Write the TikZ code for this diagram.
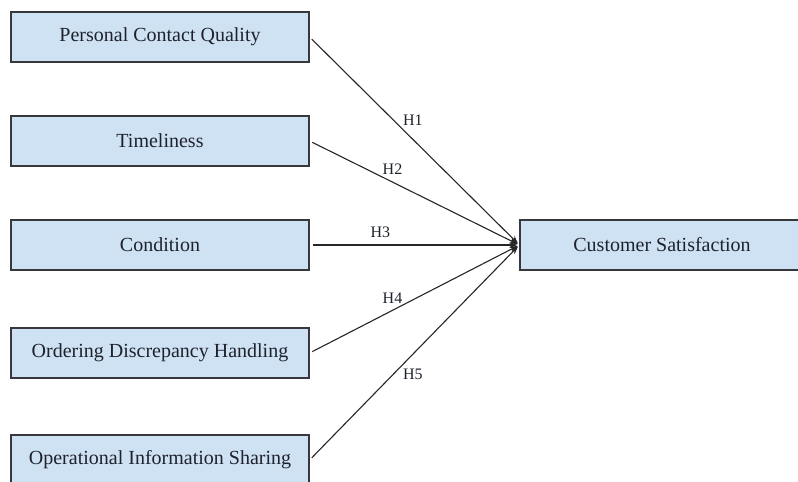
\documentclass[tikz,border=0pt]{standalone}
\usepackage{fontspec}
\setmainfont{Liberation Serif}
\usetikzlibrary{arrows.meta, positioning}
\definecolor{boxblue}{RGB}{207,226,243}
\definecolor{boxline}{RGB}{55,55,60}
\definecolor{inktext}{RGB}{30,34,45}

\begin{document}
\begin{tikzpicture}[x=1pt, y=-1pt,
		factor/.style={draw=boxline, line width=1.2pt, fill=boxblue, minimum width=298pt, minimum height=50pt, text=inktext, font=\fontsize{20}{24}\selectfont, inner sep=0pt},
		hyp/.style={draw=black!85, line width=1.1pt, -{Stealth[length=8pt,width=6pt]}, shorten <=3pt, shorten >=2pt},
		hlabel/.style={text=inktext, font=\fontsize{16}{18}\selectfont, inner sep=1pt}]
		\useasboundingbox (0,0) rectangle (798,482);
		\clip (0,0) rectangle (798,482);
		% left hand factors
		\node[factor] (pcq) at (160,37) {Personal Contact Quality};
		\node[factor] (tim) at (160,141) {Timeliness};
		\node[factor] (con) at (160,245) {Condition};
		\node[factor] (odh) at (160,353) {Ordering Discrepancy Handling};
		\node[factor] (ois) at (160,460) {Operational Information Sharing};
		% right hand
		\node[factor, minimum width=284pt] (cs) at (662,245) {Customer Satisfaction};
		% hypotheses
		\draw[hyp] (pcq.east) -- node[hlabel, pos=0.4, right=8pt] {H1} (cs.west);
		\draw[hyp] (tim.east) -- node[hlabel, pos=0.395, above=6pt] {H2} (cs.west);
		\draw[hyp] (con.east) -- node[hlabel, pos=0.337, above=6pt] {H3} (cs.west);
		\draw[hyp] (odh.east) -- node[hlabel, pos=0.395, above=5pt] {H4} (cs.west);
		\draw[hyp] (ois.east) -- node[hlabel, pos=0.4, right=8pt] {H5} (cs.west);
	\end{tikzpicture}
\end{document}
